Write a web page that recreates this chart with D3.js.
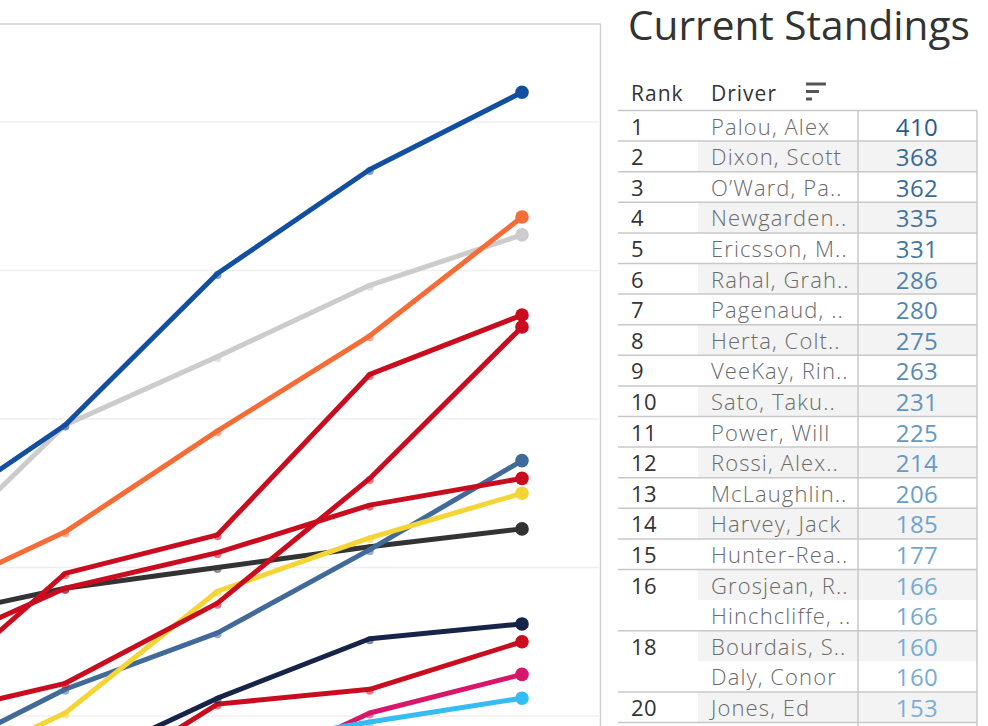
<!DOCTYPE html>
<html>
<head>
<meta charset="utf-8">
<script src="https://cdn.jsdelivr.net/npm/d3@7"></script>
<style>
  html, body { margin: 0; padding: 0; background: #fff; }
  svg { display: block; }
  text { font-family: "Open Sans", "Noto Sans", sans-serif; }
</style>
</head>
<body>
<svg id="chart" width="988" height="726"></svg>
<script>
// ---------- DATA ----------
const rounds = [7, 8, 9, 10, 11];
const gridValues = [200, 250, 300, 350, 400, 450];

const seriesNames = ["VeeKay", "Rossi", "McLaughlin", "Power", "Sato", "Rahal", "Herta",
                     "Pagenaud", "Ericsson", "Newgarden", "O'Ward", "Dixon", "Palou"];
const seriesColors = ["#333333", "#d9176a", "#35bdf3", "#c90d1e", "#17244a", "#416a9b", "#f4d535",
                      "#c90d1e", "#c90d1e", "#c90d1e", "#cccccc", "#f66c37", "#124fa0"];
const veekayPts     = [232, 243, 250, 257, 263];
const rossiPts      = [150, 162, 177, 201, 214];
const mclaughlinPts = [150, 168, 189, 198, 206];
const powerPts      = [150, 172, 204, 209, 225];
const satoPts       = [160, 182, 206, 226, 231];
const rahalPts      = [183, 209, 228, 256, 286];
const hertaPts      = [177, 201, 242, 260, 275];
const pagenaudPts   = [220, 243, 255, 271, 280];
const ericssonPts   = [199, 211, 238, 280, 331];
const newgardenPts  = [203, 248, 261, 315, 335];
const owardPts      = [248, 298, 321, 345, 362];
const dixonPts      = [238, 262, 296, 328, 368];
const palouPts      = [263, 298, 349, 384, 410];
const seriesValues = [veekayPts, rossiPts, mclaughlinPts, powerPts, satoPts, rahalPts, hertaPts,
                      pagenaudPts, ericssonPts, newgardenPts, owardPts, dixonPts, palouPts];

// standings table
const titleText = "Current Standings";
const headers = ["Rank", "Driver"];
const ranks   = ["1","2","3","4","5","6","7","8","9","10","11","12","13","14","15","16","","18","","20"];
const drivers = ["Palou, Alex","Dixon, Scott","O\u2019Ward, Pa..","Newgarden..","Ericsson, M..",
                 "Rahal, Grah..","Pagenaud, ..","Herta, Colt..","VeeKay, Rin..","Sato, Taku..",
                 "Power, Will","Rossi, Alex..","McLaughlin..","Harvey, Jack","Hunter-Rea..",
                 "Grosjean, R..","Hinchcliffe, ..","Bourdais, S..","Daly, Conor","Jones, Ed"];
const points  = [410,368,362,335,331,286,280,275,263,231,225,214,206,185,177,166,166,160,160,153];

// ---------- CHART ----------
const svg = d3.select("#chart");
const x = d3.scaleLinear().domain([7, 11]).range([-87, 522]);
const y = d3.scaleLinear().domain([200, 400]).range([716, 122]);

svg.append("defs").append("clipPath").attr("id", "plotClip")
  .append("rect").attr("x", 0).attr("y", 25).attr("width", 599).attr("height", 701);

// gridlines
svg.append("g").selectAll("line").data(gridValues).join("line")
  .attr("x1", 0).attr("x2", 599)
  .attr("y1", d => y(d)).attr("y2", d => y(d))
  .attr("stroke", "#efefef").attr("stroke-width", 1.5)
  .attr("clip-path", "url(#plotClip)");

// frame
svg.append("line").attr("x1", 0).attr("x2", 601).attr("y1", 24).attr("y2", 24)
  .attr("stroke", "#d2d2d2").attr("stroke-width", 1.5);
svg.append("line").attr("x1", 600.5).attr("x2", 600.5).attr("y1", 24).attr("y2", 726)
  .attr("stroke", "#d2d2d2").attr("stroke-width", 1.5);

const plot = svg.append("g").attr("clip-path", "url(#plotClip)");
const line = d3.line().x((d, i) => x(rounds[i])).y(d => y(d));

seriesNames.forEach((name, si) => {
  const vals = seriesValues[si];
  const col = seriesColors[si];
  const g = plot.append("g").attr("class", "series");
  g.append("path").datum(vals).attr("d", line)
    .attr("fill", "none").attr("stroke", col).attr("stroke-width", 5)
    .attr("stroke-linejoin", "round");
  g.selectAll("circle.mid").data(vals.slice(0, -1)).join("circle")
    .attr("class", "mid")
    .attr("cx", (d, i) => x(rounds[i])).attr("cy", d => y(d) + 1.5)
    .attr("r", 4).attr("fill", col).attr("fill-opacity", 0.55);
  g.append("circle")
    .attr("cx", x(rounds[rounds.length - 1])).attr("cy", y(vals[vals.length - 1]))
    .attr("r", 6.8).attr("fill", col);
});

// ---------- TABLE ----------
const title = svg.append("text").attr("x", 628).attr("y", 40)
  .attr("fill", "#333").attr("font-size", 35).text(titleText);
const tw = title.node().getComputedTextLength();
title.attr("font-size", 35 * 342 / tw);

const rowTop = 110.5, rowH = 30.6;
const tLeft = 618, cRank = 631, cDriver = 711, shadeL = 698, divX = 858, rightX = 977, valC = 917;

// shading
svg.append("g").selectAll("rect").data(drivers).join("rect")
  .attr("x", shadeL).attr("width", rightX - shadeL)
  .attr("y", (d, i) => rowTop + i * rowH).attr("height", rowH)
  .attr("fill", (d, i) => i % 2 === 1 ? "#f3f3f3" : "none");

// header
svg.append("g").selectAll("text").data(headers).join("text")
  .attr("x", (d, i) => i === 0 ? cRank : cDriver).attr("y", 101)
  .attr("font-size", 21).attr("letter-spacing", 1).attr("fill", "#333").text(d => d);
const sortBars = [20, 13, 6];
svg.append("g").selectAll("rect").data(sortBars).join("rect")
  .attr("x", 806).attr("y", (d, i) => 82.5 + i * 7.5).attr("width", d => d).attr("height", 3)
  .attr("fill", "#555");

// row lines (skip between tied ranks)
const lineRows = d3.range(drivers.length + 1).filter(i => i === drivers.length || ranks[i] !== "");
svg.append("g").selectAll("line").data(lineRows).join("line")
  .attr("x1", tLeft).attr("x2", rightX)
  .attr("y1", d => rowTop + d * rowH).attr("y2", d => rowTop + d * rowH)
  .attr("stroke", "#c8c8c8").attr("stroke-width", 1.5);
[divX, rightX].forEach(vx => {
  svg.append("line").attr("x1", vx).attr("x2", vx).attr("y1", rowTop).attr("y2", 726)
    .attr("stroke", "#c8c8c8").attr("stroke-width", 1.5);
});

// texts
const valColor = d3.scaleLinear().domain([153, 410]).range(["#7aaed6", "#2c5b8b"]);
svg.append("g").selectAll("text").data(ranks).join("text")
  .attr("x", cRank).attr("y", (d, i) => rowTop + i * rowH + 24)
  .attr("font-size", 22).attr("letter-spacing", 0.5).attr("fill", "#333").text(d => d);
svg.append("g").selectAll("text").data(drivers).join("text")
  .attr("x", cDriver).attr("y", (d, i) => rowTop + i * rowH + 24)
  .attr("font-size", 22).attr("letter-spacing", 1.1).attr("fill", "#6a6a6a")
  .attr("font-weight", 300).text(d => d);
svg.append("g").selectAll("text").data(points).join("text")
  .attr("x", valC).attr("y", (d, i) => rowTop + i * rowH + 25)
  .attr("text-anchor", "middle").attr("font-size", 24).attr("letter-spacing", 0.5)
  .attr("fill", d => valColor(d)).text(d => d);
</script>
</body>
</html>
